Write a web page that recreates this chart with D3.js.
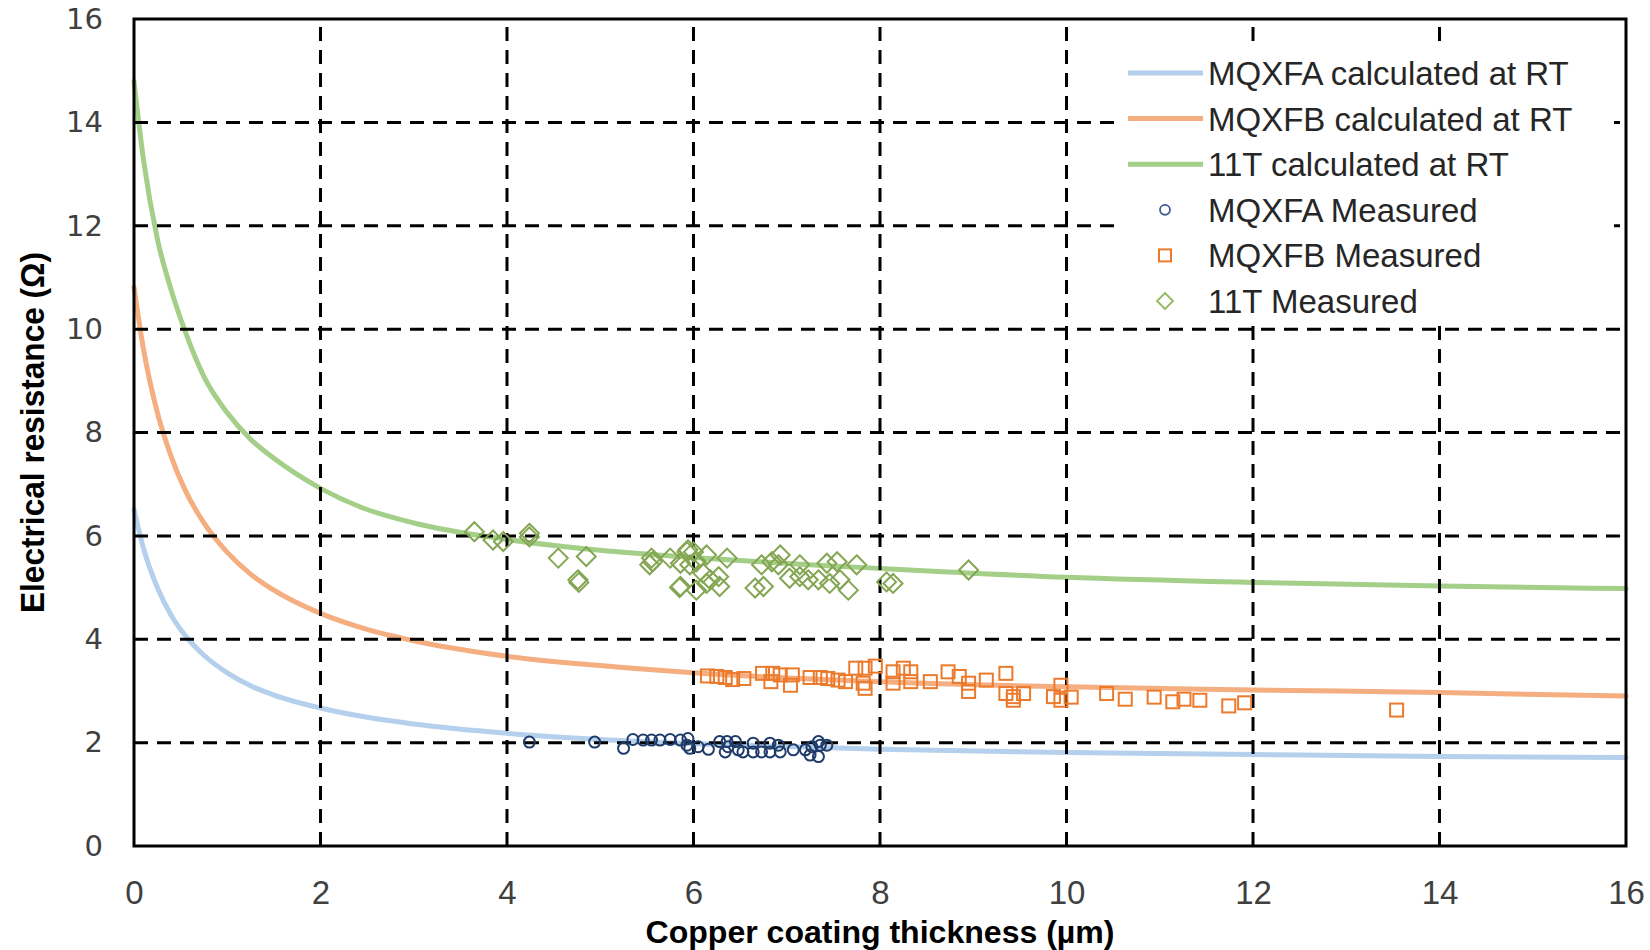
<!DOCTYPE html>
<html>
<head>
<meta charset="utf-8">
<title>Electrical resistance vs copper coating thickness</title>
<script src="https://d3js.org/d3.v7.min.js"></script>
<style>
  body { margin: 0; background: #fff; }
  .grid line { stroke: #000; stroke-width: 3; stroke-dasharray: 14 9; }
  .frame { fill: none; stroke: #000; stroke-width: 3; }
  .calc { fill: none; stroke-width: 5; stroke-linecap: round; }
</style>
</head>
<body>
<svg id="chart" width="1650" height="950"></svg>

<script>
// calculated curves at RT
const curveX    = [0, 0.1, 0.25, 0.4, 0.55, 0.75, 1, 1.25, 1.5, 2, 2.5, 3, 4, 5, 6, 8, 10, 12, 14, 16];
const mqxfaCalc = [6.51, 5.77, 5.0, 4.46, 4.07, 3.69, 3.35, 3.1, 2.92, 2.67, 2.49, 2.36, 2.18, 2.06, 1.98, 1.87, 1.81, 1.77, 1.73, 1.71];
const mqxfbCalc = [10.81, 9.63, 8.39, 7.53, 6.88, 6.25, 5.68, 5.26, 4.95, 4.5, 4.19, 3.97, 3.67, 3.49, 3.35, 3.18, 3.08, 3.02, 2.97, 2.9];
const t11Calc   = [14.79, 13.3, 11.75, 10.75, 9.95, 9.08, 8.38, 7.87, 7.5, 6.92, 6.51, 6.25, 5.93, 5.72, 5.58, 5.37, 5.2, 5.1, 5.03, 4.98];

// measured points
const mqxfaX = [4.24, 4.94, 5.25, 5.35, 5.46, 5.55, 5.64, 5.75, 5.86, 5.94, 5.93, 5.96, 6.05, 6.16, 6.28, 6.36, 6.37, 6.34, 6.45, 6.48,
                6.53, 6.64, 6.64, 6.73, 6.82, 6.82, 6.91, 6.93, 7.07, 7.2, 7.27, 7.34, 7.34, 7.25, 7.43, 7.36];
const mqxfaY = [2.01, 2.01, 1.89, 2.06, 2.05, 2.05, 2.05, 2.06, 2.05, 2.08, 1.95, 1.89, 1.92, 1.87, 2.02, 2.02, 1.92, 1.82, 2.02, 1.86,
                1.82, 1.99, 1.82, 1.82, 1.99, 1.82, 1.95, 1.82, 1.86, 1.86, 1.92, 2.02, 1.73, 1.76, 1.95, 1.95];

const mqxfbX = [6.15, 6.25, 6.34, 6.42, 6.54, 6.74, 6.85, 6.83, 6.93, 7.06, 7.04, 7.25, 7.36, 7.44, 7.55, 7.63, 7.74, 7.84, 7.95, 7.82,
                7.84, 8.14, 8.25, 8.33, 8.14, 8.33, 8.54, 8.73, 8.85, 8.95, 8.95, 9.14, 9.35, 9.35, 9.43, 9.54, 9.43, 9.86, 9.94, 9.94,
                10.05, 10.43, 10.63, 10.94, 11.14, 11.26, 11.43, 11.74, 11.91, 13.54];
const mqxfbY = [3.29, 3.28, 3.26, 3.22, 3.24, 3.34, 3.34, 3.18, 3.31, 3.31, 3.11, 3.26, 3.26, 3.24, 3.21, 3.18, 3.44, 3.44, 3.48, 3.15,
                3.05, 3.37, 3.44, 3.37, 3.15, 3.18, 3.18, 3.37, 3.28, 3.15, 2.99, 3.21, 3.34, 2.95, 2.89, 2.95, 2.82, 2.89, 3.11, 2.82,
                2.88, 2.95, 2.84, 2.88, 2.79, 2.84, 2.82, 2.71, 2.77, 2.63];

const t11X = [3.65, 3.85, 3.96, 4.24, 4.24, 4.55, 4.85, 4.76, 4.77, 5.55, 5.53, 5.56, 5.75, 5.86, 5.96, 5.93, 5.94, 5.86, 5.85, 6.0,
              6.14, 6.36, 6.03, 6.1, 6.18, 6.27, 6.28, 6.14, 6.03, 6.66, 6.75, 6.73, 6.84, 6.93, 6.91, 7.03, 7.14, 7.14, 7.23, 7.34,
              7.43, 7.54, 7.46, 7.57, 7.66, 7.75, 8.07, 8.14, 8.95];
const t11Y = [6.08, 5.92, 5.89, 6.05, 5.98, 5.57, 5.6, 5.15, 5.1, 5.57, 5.44, 5.5, 5.57, 5.47, 5.44, 5.69, 5.73, 5.02, 5.0, 5.69,
              5.63, 5.57, 5.5, 5.28, 5.15, 5.21, 5.02, 5.08, 4.95, 4.99, 5.02, 5.44, 5.5, 5.63, 5.44, 5.18, 5.44, 5.21, 5.15, 5.15,
              5.47, 5.5, 5.08, 5.15, 4.95, 5.44, 5.11, 5.08, 5.34];

const xTicks = [0, 2, 4, 6, 8, 10, 12, 14, 16];
const yTicks = [0, 2, 4, 6, 8, 10, 12, 14, 16];
const legendLabels = ["MQXFA calculated at RT", "MQXFB calculated at RT", "11T calculated at RT",
                      "MQXFA Measured", "MQXFB Measured", "11T Measured"];

// colours
const lineColors = ["#b4d0ec", "#f4ae80", "#a4cf88"];
const markColors = ["#1f3c6a", "#ec7a2c", "#84a653"];

var svg = d3.select("#chart");
svg.append("rect").attr("width", 1650).attr("height", 950).attr("fill", "#fff");

let plotL = 134, plotR = 1626, plotT = 19, plotB = 846;

let x = d3.scaleLinear().domain([0, 16]).range([plotL, plotR]);
let y = d3.scaleLinear().domain([0, 16]).range([plotB, plotT]);

// curves
let line = d3.line()
  .x(function(d) { return x(d[0]); })
  .y(function(d) { return y(d[1]); })
  .curve(d3.curveMonotoneX);

[mqxfaCalc, mqxfbCalc, t11Calc].forEach(function(vals, i) {
  svg.append("path")
    .attr("class", "calc")
    .attr("stroke", lineColors[i])
    .attr("d", line(curveX.map(function(cx, j) { return [cx, vals[j]]; })));
});

// dashed grid
let grid = svg.append("g").attr("class", "grid");
grid.selectAll("line.v")
  .data(xTicks.slice(1, -1))
  .enter().append("line")
    .attr("class", "v")
    .attr("x1", function(d) { return x(d); })
    .attr("x2", function(d) { return x(d); })
    .attr("y1", plotB)
    .attr("y2", plotT);
grid.selectAll("line.h")
  .data(yTicks.slice(1, -1))
  .enter().append("line")
    .attr("class", "h")
    .attr("x1", plotL)
    .attr("x2", plotR)
    .attr("y1", function(d) { return y(d); })
    .attr("y2", function(d) { return y(d); });

// legend box covers the grid behind it
svg.append("rect")
  .attr("x", 1119).attr("y", 50)
  .attr("width", 495).attr("height", 272)
  .attr("fill", "#fff");

svg.append("rect")
  .attr("class", "frame")
  .attr("x", plotL).attr("y", plotT)
  .attr("width", plotR - plotL).attr("height", plotB - plotT);

// measured markers
function drawCircles(g, xs, ys, color) {
  g.selectAll("circle")
    .data(xs.map(function(v, i) { return [v, ys[i]]; }))
    .enter().append("circle")
      .attr("cx", function(d) { return x(d[0]); })
      .attr("cy", function(d) { return y(d[1]); })
      .attr("r", 5.5)
      .attr("fill", "none")
      .attr("stroke", color)
      .attr("stroke-width", 2);
}
function drawSquares(g, xs, ys, color) {
  g.selectAll("rect")
    .data(xs.map(function(v, i) { return [v, ys[i]]; }))
    .enter().append("rect")
      .attr("x", function(d) { return x(d[0]) - 6.5; })
      .attr("y", function(d) { return y(d[1]) - 6.5; })
      .attr("width", 13).attr("height", 13)
      .attr("fill", "none")
      .attr("stroke", color)
      .attr("stroke-width", 2);
}
function drawDiamonds(g, xs, ys, color) {
  g.selectAll("path")
    .data(xs.map(function(v, i) { return [v, ys[i]]; }))
    .enter().append("path")
      .attr("d", "M0,-9.5L9.5,0L0,9.5L-9.5,0Z")
      .attr("transform", function(d) { return "translate(" + x(d[0]) + "," + y(d[1]) + ")"; })
      .attr("fill", "none")
      .attr("stroke", color)
      .attr("stroke-width", 2);
}

drawDiamonds(svg.append("g"), t11X, t11Y, markColors[2]);
drawSquares(svg.append("g"), mqxfbX, mqxfbY, markColors[1]);
drawCircles(svg.append("g"), mqxfaX, mqxfaY, markColors[0]);

// axes (labels only, frame drawn above)
let yAxis = svg.append("g")
  .attr("transform", "translate(" + plotL + ",0)")
  .call(d3.axisLeft(y).tickValues(yTicks).tickSize(0).tickPadding(31));
yAxis.select(".domain").remove();
yAxis.selectAll("text")
  .attr("font-family", "'DejaVu Sans', Verdana, sans-serif")
  .attr("font-size", 29)
  .attr("fill", "#404040");

let xAxis = svg.append("g")
  .attr("transform", "translate(0," + plotB + ")")
  .call(d3.axisBottom(x).tickValues(xTicks).tickSize(0).tickPadding(35));
xAxis.select(".domain").remove();
xAxis.selectAll("text")
  .attr("font-family", "'Liberation Sans', Arial, sans-serif")
  .attr("font-size", 33)
  .attr("fill", "#404040");

svg.append("text")
  .attr("x", (plotL + plotR) / 2)
  .attr("y", 943)
  .attr("text-anchor", "middle")
  .attr("font-family", "'Liberation Sans', Arial, sans-serif")
  .attr("font-weight", "bold")
  .attr("font-size", 32)
  .attr("textLength", 469)
  .attr("lengthAdjust", "spacingAndGlyphs")
  .attr("fill", "#000")
  .text("Copper coating thickness (µm)");

svg.append("text")
  .attr("transform", "translate(44," + (plotT + plotB) / 2 + ") rotate(-90)")
  .attr("text-anchor", "middle")
  .attr("font-family", "'Liberation Sans', Arial, sans-serif")
  .attr("font-weight", "bold")
  .attr("font-size", 34)
  .attr("textLength", 361)
  .attr("lengthAdjust", "spacingAndGlyphs")
  .attr("fill", "#000")
  .text("Electrical resistance (Ω)");

// legend
let legend = svg.append("g").attr("transform", "translate(1128,73)");
let rowH = 45.6;
legendLabels.forEach(function(lbl, i) {
  let row = legend.append("g").attr("transform", "translate(0," + i * rowH + ")");
  if (i < 3) {
    row.append("line")
      .attr("x1", 0).attr("x2", 75).attr("y1", 0).attr("y2", 0)
      .attr("stroke", lineColors[i])
      .attr("stroke-width", 5);
  } else if (i == 3) {
    row.append("circle").attr("cx", 37).attr("cy", 0).attr("r", 5)
      .attr("fill", "none").attr("stroke", "#3b5a8c").attr("stroke-width", 1.8);
  } else if (i == 4) {
    row.append("rect").attr("x", 31).attr("y", -6).attr("width", 12).attr("height", 12)
      .attr("fill", "none").attr("stroke", markColors[1]).attr("stroke-width", 2);
  } else {
    row.append("path").attr("d", "M37,-8L45,0L37,8L29,0Z")
      .attr("fill", "none").attr("stroke", "#93b862").attr("stroke-width", 1.8);
  }
  row.append("text")
    .attr("x", 80)
    .attr("y", 12)
    .attr("font-family", "'Liberation Sans', Arial, sans-serif")
    .attr("font-size", 33)
    .attr("fill", "#262626")
    .text(lbl);
});
</script>
</body>
</html>
